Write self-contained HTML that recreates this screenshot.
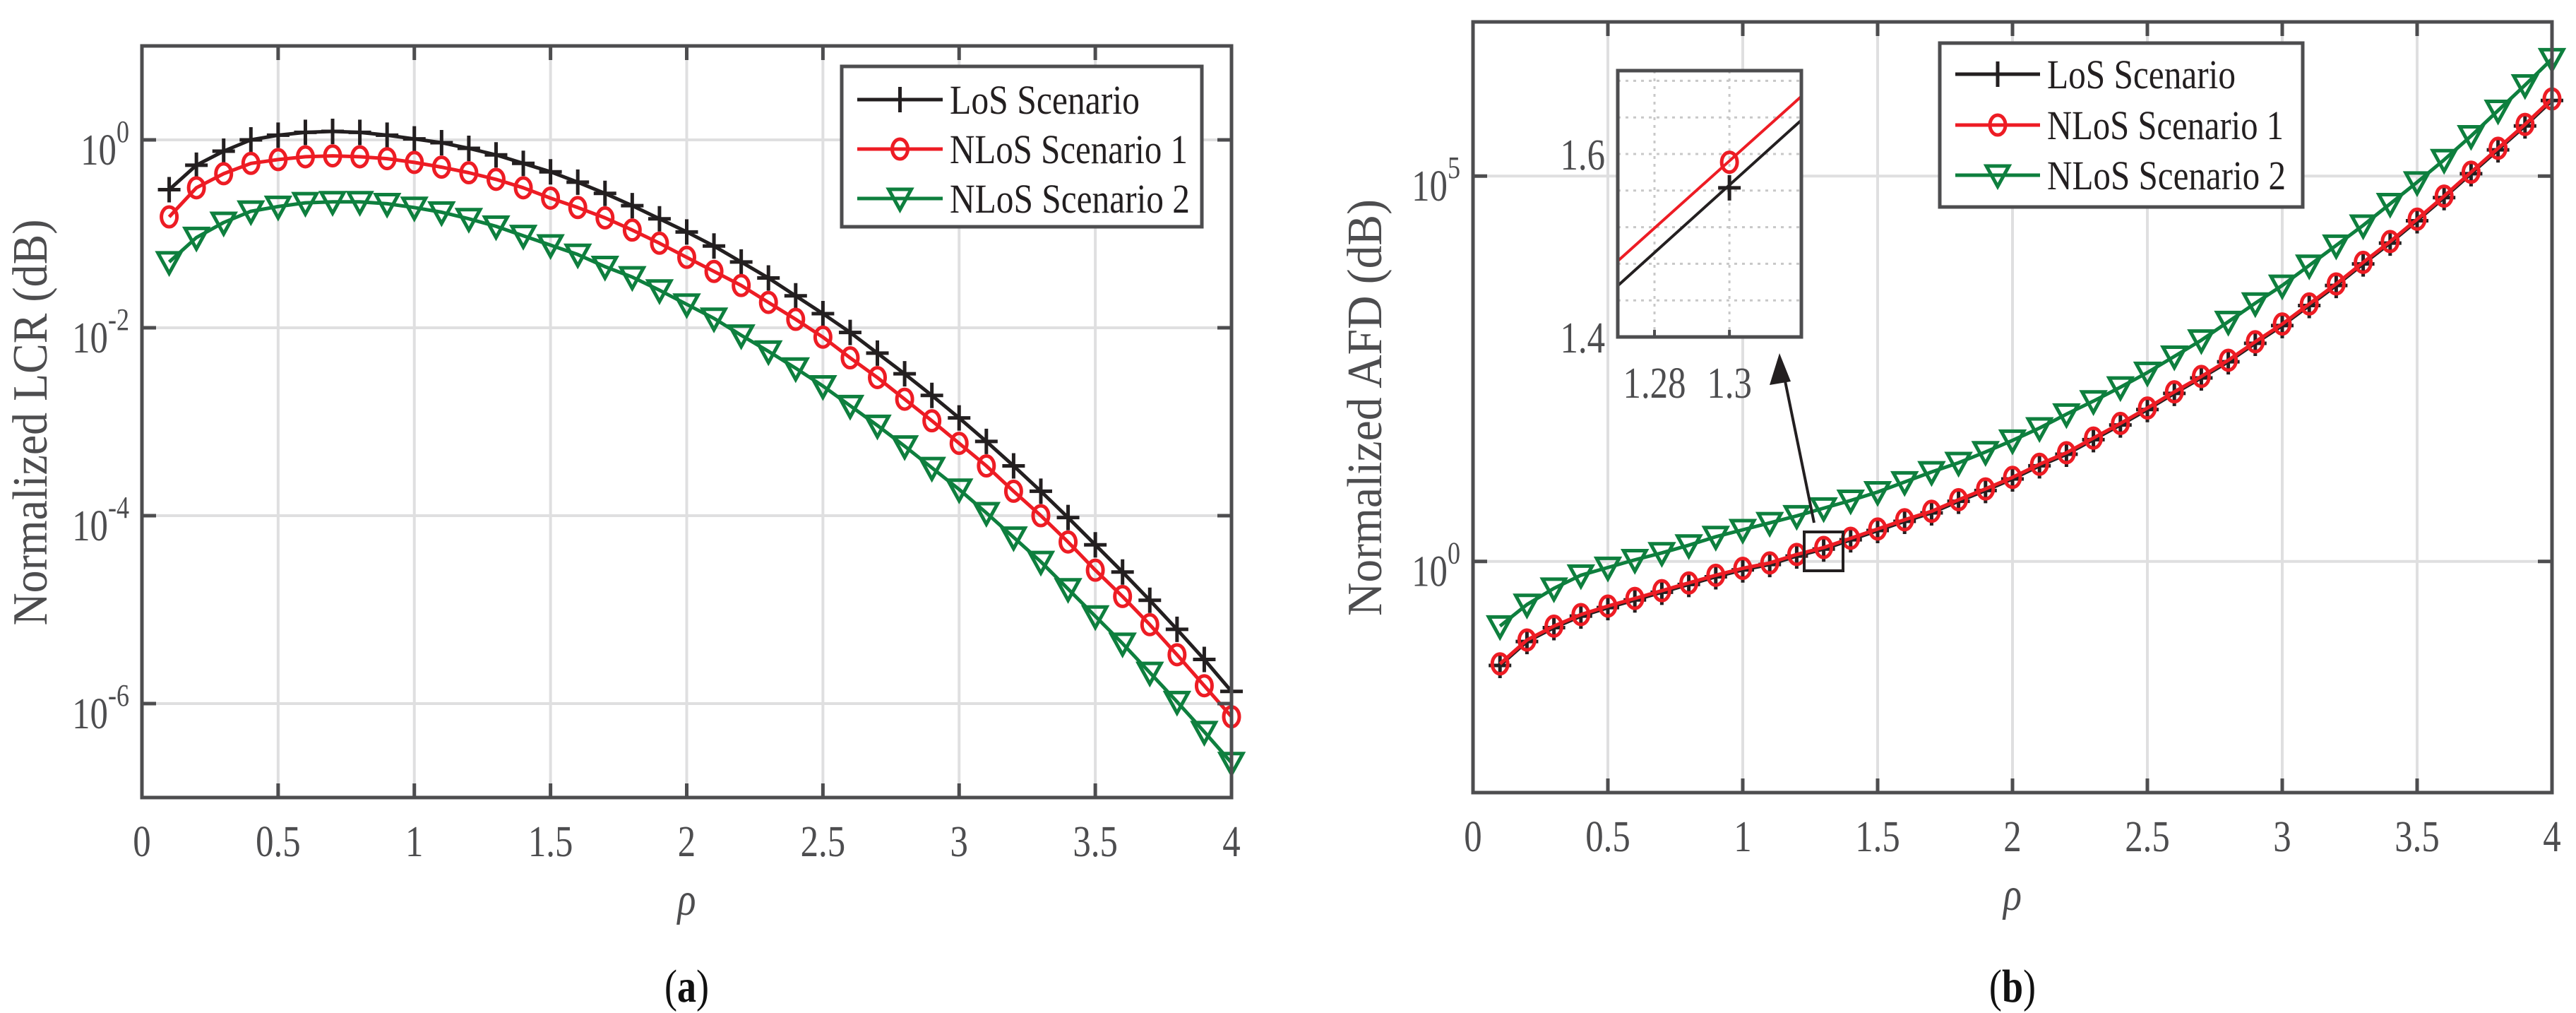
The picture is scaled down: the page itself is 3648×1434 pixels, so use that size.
<!DOCTYPE html>
<html><head><meta charset="utf-8"><style>
html,body{margin:0;padding:0;background:#fff;}
svg{display:block;}
svg text{font-family:"Liberation Serif","DejaVu Serif",serif;}
</style></head><body>
<svg id="fig" width="3648" height="1434" viewBox="0 0 3648 1434" xmlns="http://www.w3.org/2000/svg" font-family="Liberation Serif, DejaVu Serif, serif"></svg>
<script>
// ---------- data ----------
const rho = [0.1,0.2,0.3,0.4,0.5,0.6,0.7,0.8,0.9,1.0,1.1,1.2,1.3,1.4,1.5,1.6,1.7,1.8,1.9,2.0,2.1,2.2,2.3,2.4,2.5,2.6,2.7,2.8,2.9,3.0,3.1,3.2,3.3,3.4,3.5,3.6,3.7,3.8,3.9,4.0];
// LCR (log10 of values)
const lcrLoS = [-0.53,-0.27,-0.12,0,0.05,0.08,0.09,0.08,0.05,0.01,-0.03,-0.09,-0.16,-0.25,-0.34,-0.45,-0.57,-0.70,-0.84,-0.98,-1.13,-1.30,-1.47,-1.66,-1.85,-2.05,-2.27,-2.49,-2.72,-2.96,-3.21,-3.47,-3.74,-4.02,-4.31,-4.60,-4.90,-5.21,-5.53,-5.87];
const lcrNLoS1 = [-0.82,-0.51,-0.36,-0.25,-0.21,-0.18,-0.17,-0.18,-0.20,-0.24,-0.29,-0.35,-0.42,-0.51,-0.62,-0.72,-0.83,-0.96,-1.10,-1.25,-1.40,-1.55,-1.73,-1.91,-2.10,-2.32,-2.53,-2.76,-2.99,-3.23,-3.47,-3.74,-4.00,-4.28,-4.58,-4.86,-5.16,-5.48,-5.81,-6.14];
const lcrNLoS2 = [-1.30,-1.04,-0.88,-0.76,-0.71,-0.67,-0.66,-0.66,-0.68,-0.72,-0.77,-0.84,-0.92,-1.02,-1.12,-1.22,-1.35,-1.46,-1.60,-1.75,-1.90,-2.08,-2.25,-2.43,-2.62,-2.83,-3.04,-3.26,-3.49,-3.72,-3.97,-4.23,-4.49,-4.78,-5.07,-5.36,-5.67,-5.98,-6.30,-6.63];
// AFD (log10 of values)
const afdNLoS1 = [-1.33,-1.02,-0.84,-0.69,-0.58,-0.48,-0.38,-0.28,-0.18,-0.09,-0.02,0.09,0.18,0.30,0.42,0.54,0.65,0.80,0.94,1.09,1.26,1.41,1.60,1.79,1.99,2.20,2.40,2.61,2.85,3.08,3.34,3.60,3.88,4.15,4.44,4.74,5.05,5.36,5.67,6.00];
const afdLoS = [-1.35,-1.04,-0.86,-0.71,-0.60,-0.50,-0.40,-0.30,-0.20,-0.11,-0.04,0.07,0.16,0.28,0.40,0.52,0.63,0.78,0.92,1.07,1.24,1.39,1.58,1.77,1.97,2.18,2.38,2.59,2.83,3.06,3.32,3.58,3.86,4.13,4.42,4.72,5.03,5.34,5.65,5.98];
const afdNLoS2 = [-0.84,-0.56,-0.35,-0.18,-0.08,0.02,0.11,0.21,0.32,0.41,0.50,0.59,0.69,0.79,0.90,1.03,1.16,1.28,1.42,1.57,1.73,1.91,2.08,2.26,2.45,2.66,2.87,3.11,3.35,3.58,3.84,4.10,4.36,4.64,4.92,5.21,5.52,5.85,6.18,6.52];
const xTicks = [0,0.5,1,1.5,2,2.5,3,3.5,4];
const xTickLabels = ["0","0.5","1","1.5","2","2.5","3","3.5","4"];
const lcrYTicks = [0,-2,-4,-6];
const afdYTicks = [5,0];
const legendLabels = ["LoS Scenario","NLoS Scenario 1","NLoS Scenario 2"];
// inset (zoomed AFD around rho=1.3)
const insetX = [1.2702,1.3192];
const insetNLoS1 = [1.483,1.663];
const insetLoS = [1.456,1.637];
const insetPointX = [1.3];
const insetPointNLoS1 = [1.591];
const insetPointLoS = [1.563];
const insetXTicks = [1.28,1.3];
const insetXTickLabels = ["1.28","1.3"];
const insetYTicks = [1.4,1.6];
const insetYTickLabels = ["1.4","1.6"];
const insetMinor = [1.44,1.48,1.52,1.56,1.64,1.68];

const NS="http://www.w3.org/2000/svg";
const svg=document.getElementById('fig');
const AX="#4d4d4f", GRID="#dfdfe0";
const COL={los:"#231f20",n1:"#ed1c24",n2:"#0e7f3e"};
const FONT="Liberation Serif, DejaVu Serif, serif";
const SQ=0.82; // horizontal condensing of the reference font
function el(tag,attrs,parent){const e=document.createElementNS(NS,tag);for(const k in attrs)e.setAttribute(k,attrs[k]);(parent||svg).appendChild(e);return e;}
function txt(parent,x,y,str,size,anchor,color,extra){
  const t=el('text',Object.assign({x:0,y:0,'font-size':size,fill:color,'text-anchor':anchor,'font-family':FONT,
    transform:`translate(${x},${y}) scale(${SQ},1)`},extra||{}),parent);
  t.textContent=str;
  return t;
}

function marker(g,type,x,y,color){
  let m;
  if(type==='plus'){
    m=el('path',{d:`M${x-16},${y}H${x+16}M${x},${y-18}V${y+18}`,stroke:color,'stroke-width':5,fill:'none'},g);
  }else if(type==='circle'){
    m=el('ellipse',{cx:x,cy:y,rx:11,ry:14,stroke:color,'stroke-width':5,fill:'none'},g);
  }else{
    m=el('path',{d:`M${x-16},${y-13}H${x+16}L${x},${y+16}Z`,stroke:color,'stroke-width':5,fill:'none'},g);
  }
  return m;
}

function plot(cfg){
  const {L,R,T,B,ymin,ymax,yTicks,series,legend,name}=cfg;
  const g=el('g',{});
  
  
  const sx=v=>L+(v-0)/(4-0)*(R-L);
  const sy=v=>B-(v-ymin)/(ymax-ymin)*(B-T);
  const grid=el('g',{},g);
  
  
  xTicks.forEach(t=>{ if(t>0&&t<4) el('line',{x1:sx(t),x2:sx(t),y1:T,y2:B,stroke:GRID,'stroke-width':4},grid);});
  yTicks.forEach(t=>el('line',{x1:L,x2:R,y1:sy(t),y2:sy(t),stroke:GRID,'stroke-width':4},grid));
  series.forEach(s=>{
    const sg=el('g',{},g);
    
    
    const d=rho.map((x,i)=>(i?'L':'M')+sx(x).toFixed(1)+','+sy(s.data[i]).toFixed(1)).join('');
    el('path',{d,stroke:s.color,'stroke-width':5,fill:'none','stroke-linejoin':'round'},sg);
    rho.forEach((x,i)=>{const m=marker(sg,s.marker,sx(x),sy(s.data[i]),s.color);
      
      });
  });
  const box=el('rect',{x:L,y:T,width:R-L,height:B-T,fill:'none',stroke:AX,'stroke-width':5},g);
  
  
  xTicks.forEach((t,i)=>{
    el('line',{x1:sx(t),x2:sx(t),y1:B,y2:B-20,stroke:AX,'stroke-width':5},g);
    el('line',{x1:sx(t),x2:sx(t),y1:T,y2:T+20,stroke:AX,'stroke-width':5},g);
    const tx=txt(g,sx(t),B+83,xTickLabels[i],62,'middle',AX);
    
    
  });
  yTicks.forEach(t=>{
    el('line',{x1:L,x2:L+20,y1:sy(t),y2:sy(t),stroke:AX,'stroke-width':5},g);
    el('line',{x1:R,x2:R-20,y1:sy(t),y2:sy(t),stroke:AX,'stroke-width':5},g);
    const tx=txt(g,L-18,sy(t)+35,'',62,'end',AX);
    
    
    const a=document.createElementNS(NS,'tspan');a.textContent='10';tx.appendChild(a);
    const b=document.createElementNS(NS,'tspan');b.setAttribute('dy','-32');b.setAttribute('font-size','44');b.textContent=String(t);tx.appendChild(b);
  });
  const yl=el('text',{x:0,y:0,'font-size':70,fill:AX,'text-anchor':'middle','font-family':FONT,
    textLength:cfg.ylen,lengthAdjust:'spacingAndGlyphs',transform:`translate(${cfg.ylx},${cfg.yly}) rotate(-90)`},g);
  yl.textContent=cfg.ylabel;
  
  
  const xl=txt(g,(L+R)/2,B+166,'ρ',66,'middle',AX,{'font-style':'italic'});
  
  
  const cap=txt(g,(L+R)/2,1418,'',66,'middle','#111');
  
  
  const c1=document.createElementNS(NS,'tspan');c1.textContent='(';cap.appendChild(c1);
  const c2=document.createElementNS(NS,'tspan');c2.setAttribute('font-weight','bold');c2.textContent=cfg.caption;cap.appendChild(c2);
  const c3=document.createElementNS(NS,'tspan');c3.textContent=')';cap.appendChild(c3);
  const lg=el('g',{},g);
  
  
  el('rect',{x:legend.x1,y:legend.y1,width:legend.x2-legend.x1,height:legend.y2-legend.y1,fill:'#fff',stroke:AX,'stroke-width':5},lg);
  series.forEach((s,i)=>{
    const cy=legend.rows[i];
    const e=el('g',{},lg);
    
    
    el('line',{x1:legend.lx1,x2:legend.lx2,y1:cy,y2:cy,stroke:s.color,'stroke-width':5},e);
    marker(e,s.marker,(legend.lx1+legend.lx2)/2,cy,s.color);
    const t=el('text',{x:legend.tx,y:cy+20,'font-size':58,fill:'#231f20','font-family':FONT,
      textLength:legend.lens[i],lengthAdjust:'spacingAndGlyphs'},e);
    t.textContent=legendLabels[i];
  });
  return {g,sx,sy};
}

plot({name:'lcr-chart',L:201,R:1744,T:65,B:1129,ymin:-7,ymax:1,yTicks:lcrYTicks,
  ylabel:'Normalized LCR (dB)',ylen:575,ylx:66,yly:598,caption:'a',
  legend:{x1:1192,x2:1702,y1:94,y2:321,rows:[141,211,281],lx1:1214,lx2:1335,tx:1345,lens:[269,337,340]},
  series:[{name:'series-los',data:lcrLoS,color:COL.los,marker:'plus'},
          {name:'series-nlos-1',data:lcrNLoS1,color:COL.n1,marker:'circle'},
          {name:'series-nlos-2',data:lcrNLoS2,color:COL.n2,marker:'tri'}]});

plot({name:'afd-chart',L:2086,R:3614,T:31,B:1122,ymin:-3,ymax:7,yTicks:afdYTicks,
  ylabel:'Normalized AFD (dB)',ylen:590,ylx:1956,yly:577,caption:'b',
  legend:{x1:2747,x2:3261,y1:61,y2:293,rows:[105,177,248],lx1:2769,lx2:2889,tx:2899,lens:[267,335,338]},
  series:[{name:'series-los',data:afdLoS,color:COL.los,marker:'plus'},
          {name:'series-nlos-1',data:afdNLoS1,color:COL.n1,marker:'circle'},
          {name:'series-nlos-2',data:afdNLoS2,color:COL.n2,marker:'tri'}]});

const zr=el('rect',{x:2555,y:753,width:55,height:55,fill:'none',stroke:'#231f20','stroke-width':4});


const ar=el('g',{});


el('line',{x1:2569,y1:740,x2:2524,y2:520,stroke:'#231f20','stroke-width':4},ar);
el('path',{d:'M2520,500 L2506,545 L2536,540 Z',fill:'#231f20'},ar);

(function(){
  const L=2291,R=2551,T=100,B=477,x0=insetX[0],x1=insetX[1],y0=1.4,y1=1.6+(218-100)/1295;
  const sx=v=>L+(v-x0)/(x1-x0)*(R-L);
  const sy=v=>B-(v-y0)/(y1-y0)*(B-T);
  const g=el('g',{});
  
  
  el('rect',{x:L,y:T,width:R-L,height:B-T,fill:'#fff'},g);
  insetMinor.concat(insetYTicks).forEach(t=>el('line',{x1:L,x2:R,y1:sy(t),y2:sy(t),stroke:'#c8c8c8','stroke-width':3,'stroke-dasharray':'4,7'},g));
  insetXTicks.forEach(t=>el('line',{x1:sx(t),x2:sx(t),y1:T,y2:B,stroke:'#c8c8c8','stroke-width':3,'stroke-dasharray':'4,7'},g));
  const l1=el('path',{d:`M${sx(insetX[0])},${sy(insetLoS[0])}L${sx(insetX[1])},${sy(insetLoS[1])}`,stroke:COL.los,'stroke-width':4,fill:'none'},g);
  
  
  const l2=el('path',{d:`M${sx(insetX[0])},${sy(insetNLoS1[0])}L${sx(insetX[1])},${sy(insetNLoS1[1])}`,stroke:COL.n1,'stroke-width':4,fill:'none'},g);
  
  
  marker(g,'circle',sx(insetPointX[0]),sy(insetPointNLoS1[0]),COL.n1);
  marker(g,'plus',sx(insetPointX[0]),sy(insetPointLoS[0]),COL.los);
  el('rect',{x:L,y:T,width:R-L,height:B-T,fill:'none',stroke:AX,'stroke-width':5},g);
  insetXTicks.forEach((t,i)=>{
    el('line',{x1:sx(t),x2:sx(t),y1:B,y2:B-10,stroke:AX,'stroke-width':4},g);
    const tx=txt(g,sx(t),B+86,insetXTickLabels[i],62,'middle',AX);
    
    
  });
  insetYTicks.forEach((t,i)=>{
    const tx=txt(g,L-18,sy(t)+22,insetYTickLabels[i],62,'end',AX);
    
    
  });
})();
</script>
</body></html>
